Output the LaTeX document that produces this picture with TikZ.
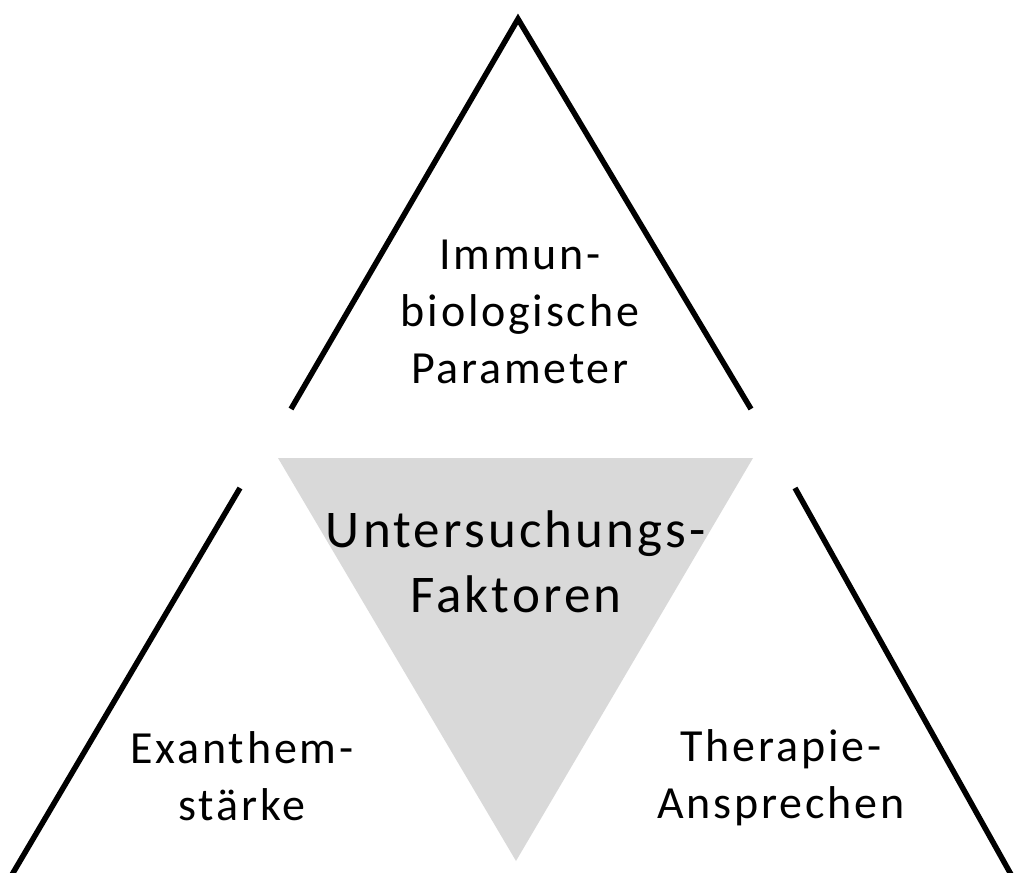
\documentclass[tikz,border=0pt]{standalone}
\usepackage{fontspec}
\setmainfont[LetterSpace=6]{Carlito}
\usepackage{xcolor}
\usepackage{tikz}
\usetikzlibrary{positioning}

\definecolor{factorgray}{HTML}{D9D9D9}

\begin{document}
\begin{tikzpicture}[x=1pt, y=-1pt,
    side/.style={line width=5.5pt, line cap=butt, line join=miter},
    lbl/.style={align=center, inner sep=0pt, anchor=base, font=\fontsize{46}{57}\selectfont},
    biglbl/.style={align=center, inner sep=0pt, anchor=base, font=\fontsize{53}{65}\selectfont}]
      \clip (0, 0) rectangle (1015, 873);

      % corner points
      \coordinate (top) at (518, 19);
      \coordinate (topl) at (291, 409);
      \coordinate (topr) at (751, 409);
      \coordinate (leftu) at (240, 488);
      \coordinate (leftd) at (10, 878);
      \coordinate (rightu) at (795, 488);
      \coordinate (rightd) at (1013, 878);

      % middle triangle
      \fill[factorgray] (278, 458) coordinate (midl) -- (753, 458) coordinate (midr)
        -- (516, 861) coordinate (midd) -- cycle;

      \draw[side] (topl) -- (top) -- (topr);
      \draw[side] (leftu) -- (leftd);
      \draw[side] (rightu) -- (rightd);

      % labels (base = last line)
      \node[lbl] (immun) at (520, 383) {Immun-\\biologische\\Parameter};
      \node[biglbl] (faktoren) at (516, 612) {Untersuchungs-\\Faktoren};
      \node[lbl] (exanthem) at (242, 820) {Exanthem-\\stärke};
      \node[lbl] (therapie) at (781, 818) {Therapie-\\Ansprechen};
\end{tikzpicture}
\end{document}
